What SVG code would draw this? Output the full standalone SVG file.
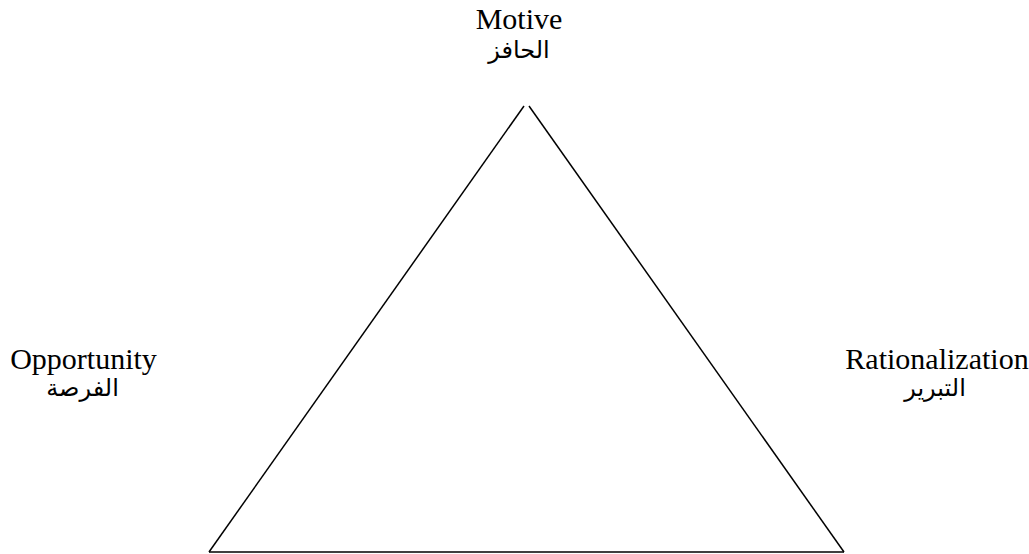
<svg xmlns="http://www.w3.org/2000/svg" width="1029" height="554" viewBox="0 0 1029 554">
<style>
.en{font-family:"Liberation Serif","Times New Roman",serif;font-size:30px;fill:#000;text-anchor:middle}
.ar{font-family:"Liberation Serif","DejaVu Sans","Noto Sans",serif;font-size:24px;fill:#000;text-anchor:middle}
.edge{stroke:#000;stroke-width:1.5;fill:none}
</style>
<rect width="1029" height="554" fill="#fff"/>
<g id="connectors">
<line class="edge" x1="524" y1="106" x2="209" y2="552"/>
<line class="edge" x1="529" y1="106" x2="844" y2="552"/>
<line class="edge" x1="209" y1="552" x2="844" y2="552"/>
</g>
<g id="motive">
<text class="en" x="519" y="29">Motive</text>
<text class="ar" x="519" y="58" direction="rtl">الحافز</text>
</g>
<g id="opportunity">
<text class="en" x="83.5" y="369">Opportunity</text>
<text class="ar" x="82.5" y="396" direction="rtl">الفرصة</text>
</g>
<g id="rationalization">
<text class="en" x="937" y="369">Rationalization</text>
<text class="ar" x="935" y="396" direction="rtl">التبرير</text>
</g>
</svg>
